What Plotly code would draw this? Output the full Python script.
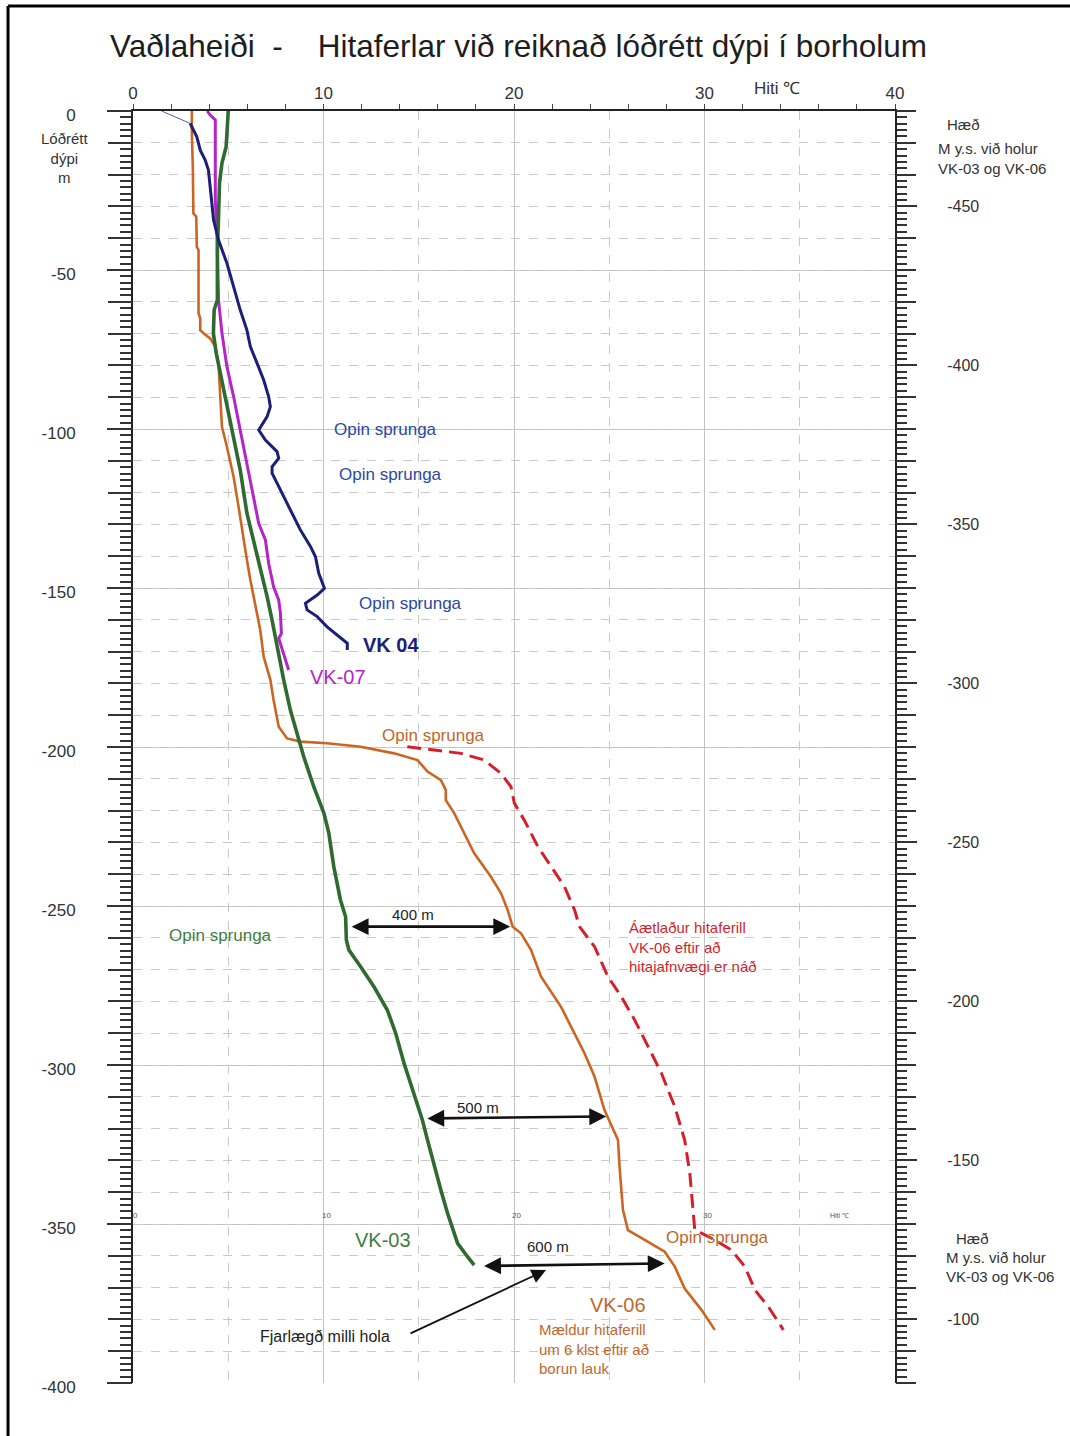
import plotly.graph_objects as go

# ---------------------------------------------------------------------------
# Temperature logs (°C) against calculated vertical depth (m, negative down)
# ---------------------------------------------------------------------------
vk04_top_temp = [1.5, 3.0]
vk04_top_depth = [0, -3.9]

vk04_temp = [3.0, 3.09, 3.35, 3.53, 3.79, 3.96, 4.05, 4.14, 4.23, 4.49, 4.93, 5.28,
             5.63, 5.98, 6.16, 6.51, 6.86, 7.12, 7.21, 7.04, 6.68, 6.6, 6.95, 7.56,
             7.65, 7.3, 7.3, 7.74, 8.26, 8.79, 9.32, 9.58, 9.75, 10.05, 9.67, 9.05,
             9.14, 9.67, 10.19, 10.8, 11.25, 11.25]
vk04_depth = [-3.9, -4.9, -8.1, -12.3, -15.4, -18.6, -23.8, -30.1, -34.3, -40.6, -47.9,
              -55.2, -62.6, -68.9, -74.1, -79.3, -84.6, -89.8, -93.0, -96.1, -99.3,
              -100.3, -103.5, -107.1, -109.2, -111.9, -113.9, -119.2, -125.5, -131.8,
              -137.0, -140.2, -145.4, -150.1, -152.2, -154.8, -156.9, -159.0, -162.2,
              -165.3, -167.4, -169.5]

vk07_temp = [3.9, 4.05, 4.32, 4.32, 4.32, 4.4, 4.43, 4.49, 4.67, 4.93, 5.28, 5.63, 5.98,
             6.33, 6.6, 6.95, 7.12, 7.38, 7.65, 7.74, 7.79, 7.65, 7.91, 8.17]
vk07_depth = [0, -1.3, -2.8, -17.5, -28, -38.5, -49, -59.4, -69.9, -80.4, -89.8, -100.3,
              -110.8, -121.3, -129.7, -134.9, -142.2, -149.6, -153.8, -158, -164.3,
              -165.8, -170.5, -175.8]

vk03_temp = [5.0, 4.96, 4.89, 4.67, 4.54, 4.49, 4.43, 4.43, 4.43, 4.26, 4.22, 4.37, 4.58,
             4.93, 5.28, 5.63, 5.98, 6.33, 6.68, 7.04, 7.3, 7.56, 7.91, 8.26, 8.61, 8.96,
             9.49, 10.02, 10.28, 10.54, 10.89, 11.16, 11.2, 11.33, 11.95, 12.65, 13.35,
             13.79, 14.23, 14.67, 15.19, 15.46, 15.81, 16.16, 16.51, 17.04, 17.56, 17.91]
vk03_depth = [0, -4.9, -11.2, -16.4, -22.7, -33.2, -43.7, -54.2, -59.4, -62.6, -69.9,
              -76.2, -82.5, -91.9, -102.4, -112.9, -126.5, -134.9, -143.3, -152.7, -160.1,
              -168.4, -178.9, -188.4, -195.7, -203.0, -212.5, -220.8, -227.1, -237.6,
              -248.1, -253.4, -260.7, -263.8, -269.1, -275.4, -282.7, -290.0, -299.5,
              -307.9, -317.3, -323.6, -332.0, -339.3, -346.6, -356.1, -360.3, -362.9]

vk06_temp = [3.09, 3.09, 3.14, 3.17, 3.32, 3.35, 3.44, 3.44, 3.53, 3.53, 3.7, 4.05, 4.32,
             4.49, 4.58, 4.67, 4.93, 5.28, 5.54, 5.8, 5.98, 6.16, 6.42, 6.68, 6.86, 7.21,
             7.38, 7.65, 8.09, 8.79, 10.19, 11.95, 13.7, 14.93, 15.46, 16.16, 16.42,
             16.42, 16.86, 17.38, 17.91, 18.79, 19.32, 19.67, 19.93, 20.37, 20.89, 21.42,
             21.77, 22.47, 23.0, 23.7, 24.23, 24.75, 25.46, 25.54, 25.72, 25.98, 26.86,
             27.91, 28.44, 28.96, 29.84, 30.54]
vk06_depth = [0, -7, -17.5, -32.2, -33.2, -42.7, -43.7, -63.6, -65.2, -68.9, -69.9, -71.5,
              -74.1, -79.3, -89.8, -99.3, -105.6, -115.0, -124.4, -134.9, -141.2, -147.5,
              -155.9, -163.2, -171.6, -178.9, -185.2, -193.6, -197.3, -198.3, -198.8,
              -199.9, -202.0, -204.1, -207.7, -210.4, -213.5, -216.7, -220.8, -227.1,
              -233.4, -240.8, -246.0, -251.3, -256.5, -258.6, -263.8, -272.2, -275.4,
              -281.7, -288.0, -296.3, -303.7, -314.2, -323.6, -332.0, -345.6, -351.9,
              -355.0, -358.7, -363.4, -370.3, -377.0, -383.3]

# estimated VK-06 profile at thermal equilibrium
vk06_eq_temp = [14.4, 15.81, 17.21, 18.44, 19.32, 19.84, 20.02, 20.54, 21.25, 21.95, 22.65,
                23.18, 23.44, 24.23, 24.93, 25.63, 26.33, 27.04, 27.74, 28.44, 28.96,
                29.23, 29.4, 29.49, 29.84, 30.54, 31.42, 32.12, 32.65, 33.35, 34.14]
vk06_eq_depth = [-199.9, -200.9, -202.0, -204.1, -208.3, -212.5, -217.7, -223.0, -231.3,
                 -237.6, -243.9, -251.3, -256.5, -262.8, -272.2, -278.5, -285.8, -294.2,
                 -302.6, -313.1, -323.6, -334.1, -344.6, -351.9, -352.9, -355.0, -358.2,
                 -363.4, -370.8, -376.0, -383.3]

# axis ticks
temp_ticks = [0, 10, 20, 30, 40]
temp_half_ticks = [5, 15, 25, 35]
depth_ticks = list(range(-400, 1, 50))
elev_ticks = list(range(-450, -99, 50))
inner_temp_ticks = [0, 10, 20, 30]

# horizontal distances between holes (m)
dist_labels = ["400 m", "500 m", "600 m"]

FONT = "Liberation Sans, Arial, sans-serif"
NAVY = "#1b1f78"
MAGENTA = "#b425c8"
GREEN = "#2f6a31"
ORANGE = "#cc6522"
RED = "#d41f2d"
BLUE_TXT = "#2b48a6"
GREEN_TXT = "#3f7e3f"
ORANGE_TXT = "#c0672c"
GRID = "#c2c2c2"
GRID_DASH = "#c9c9c9"

fig = go.Figure()

fig.add_trace(go.Scatter(x=vk06_eq_temp, y=vk06_eq_depth, mode="lines",
                         line=dict(color=RED, width=3, dash="14px,7px")))
fig.add_trace(go.Scatter(x=vk06_temp, y=vk06_depth, mode="lines",
                         line=dict(color=ORANGE, width=2.6)))
fig.add_trace(go.Scatter(x=vk07_temp, y=vk07_depth, mode="lines",
                         line=dict(color=MAGENTA, width=3)))
fig.add_trace(go.Scatter(x=vk03_temp, y=vk03_depth, mode="lines",
                         line=dict(color=GREEN, width=3.6)))
fig.add_trace(go.Scatter(x=vk04_top_temp, y=vk04_top_depth, mode="lines",
                         line=dict(color="#5a5e9a", width=1)))
fig.add_trace(go.Scatter(x=vk04_temp, y=vk04_depth, mode="lines",
                         line=dict(color=NAVY, width=3)))

# empty traces that carry the overlay axes (dashed grid, rulers, elevation scale)
for xa, ya in [("x2", "y3"), ("x", "y2"), ("x", "y4")]:
    fig.add_trace(go.Scatter(x=[None], y=[None], xaxis=xa, yaxis=ya,
                             mode="lines", hoverinfo="skip"))

tickfont = dict(family=FONT, size=17, color="#333333")

fig.update_layout(
    width=1070, height=1436,
    margin=dict(l=133, r=175, t=111, b=53),
    paper_bgcolor="white", plot_bgcolor="white",
    showlegend=False,
    font=dict(family=FONT, color="#333333"),
    title=dict(text="Vaðlaheiði\u00a0\u00a0-\u00a0\u00a0\u00a0\u00a0Hitaferlar við reiknað lóðrétt dýpi í borholum",
               font=dict(family=FONT, size=31.5, color="#1e1e1e"),
               x=110 / 1070, xanchor="left", xref="container",
               y=1 - 46 / 1436, yanchor="middle", yref="container"),
    xaxis=dict(range=[0, 40], side="top", anchor="y",
               tickvals=temp_ticks, ticktext=[str(v) for v in temp_ticks],
               ticks="outside", ticklen=5, tickcolor="#444", tickwidth=1.2,
               showline=True, linecolor="#222", linewidth=2,
               showgrid=True, gridcolor=GRID, gridwidth=1, zeroline=False,
               minor=dict(dtick=2, tick0=0, ticks="outside", ticklen=5,
                          tickcolor="#444", tickwidth=1.2, showgrid=False),
               tickfont=tickfont, ticklabelstandoff=-2),
    xaxis2=dict(range=[0, 40], overlaying="x", side="top", anchor="y",
                tickvals=temp_half_ticks, showticklabels=False, ticks="",
                showgrid=True, gridcolor=GRID_DASH, griddash="dash", gridwidth=1,
                showline=False, zeroline=False),
    yaxis=dict(range=[-400, 0], anchor="x", side="left",
               tickvals=depth_ticks, ticktext=[str(v) for v in depth_ticks],
               ticks="outside", ticklen=24, tickcolor="#333", tickwidth=1.6,
               showline=True, linecolor="#222", linewidth=2,
               showgrid=True, gridcolor=GRID, gridwidth=1, zeroline=False,
               minor=dict(dtick=2, tick0=0, ticks="outside", ticklen=11,
                          tickcolor="#333", tickwidth=1.6, showgrid=False),
               tickfont=tickfont, ticklabelstandoff=28, ticklabelshift=4),
    yaxis3=dict(range=[-400, 0], overlaying="y", anchor="x", side="left",
                dtick=10, tick0=0, ticks="outside", ticklen=24, tickcolor="#333",
                tickwidth=1.6, showticklabels=False,
                showgrid=True, gridcolor=GRID_DASH, griddash="dash", gridwidth=1,
                showline=False, zeroline=False),
    yaxis2=dict(range=[-80, -480], overlaying="y", anchor="x", side="right",
                tickvals=elev_ticks, ticktext=[str(v) for v in elev_ticks],
                ticks="outside", ticklen=20, tickcolor="#333", tickwidth=1.6,
                showline=True, linecolor="#222", linewidth=2,
                showgrid=False, zeroline=False,
                minor=dict(dtick=2, tick0=-450, ticks="outside", ticklen=10,
                           tickcolor="#333", tickwidth=1.6, showgrid=False),
                tickfont=dict(family=FONT, size=16, color="#333333"),
                ticklabelstandoff=27),
    yaxis4=dict(range=[-80, -480], overlaying="y", anchor="x", side="right",
                dtick=10, tick0=-450, ticks="outside", ticklen=20, tickcolor="#333",
                tickwidth=1.6, showticklabels=False, showgrid=False,
                showline=False, zeroline=False),
)

ann = []


def text(x, y, s, color, size, xanchor="center", yanchor="middle", bold=False,
         xref="x", yref="y", align="center"):
    if bold:
        s = "<b>" + s + "</b>"
    ann.append(dict(x=x, y=y, xref=xref, yref=yref, text=s, showarrow=False,
                    xanchor=xanchor, yanchor=yanchor, align=align,
                    font=dict(family=FONT, size=size, color=color)))


# fracture markers along the logs
text(13.26, -100.3, "Opin sprunga", BLUE_TXT, 17)
text(13.53, -114.2, "Opin sprunga", BLUE_TXT, 17)
text(14.58, -155.0, "Opin sprunga", BLUE_TXT, 17)
text(15.79, -196.5, "Opin sprunga", ORANGE_TXT, 17)
text(4.58, -259.4, "Opin sprunga", GREEN_TXT, 17)
text(30.68, -354.4, "Opin sprunga", ORANGE_TXT, 17)

# well names
text(13.53, -167.9, "VK 04", NAVY, 20, bold=True)
text(10.74, -178.0, "VK-07", MAGENTA, 20)
text(13.1, -355.0, "VK-03", GREEN_TXT, 20)
text(25.47, -375.5, "VK-06", ORANGE_TXT, 20)

text(25.95, -262.9, "Áætlaður hitaferill<br>VK-06 eftir að<br>hitajafnvægi er náð",
     RED, 15, xanchor="left", align="left")
text(21.2, -389.3, "Mældur hitaferill<br>um 6 klst eftir að<br>borun lauk",
     ORANGE_TXT, 15, xanchor="left", align="left")

# distance arrows between VK-03 and VK-06
dist_arrows = [((11.4, -256.5), (19.8, -256.5), (14.68, -252.8)),
               ((15.37, -316.8), (24.84, -316.2), (18.1, -313.5)),
               ((18.35, -363.2), (27.91, -362.4), (21.8, -357.0))]
for lbl, (a, b, t) in zip(dist_labels, dist_arrows):
    ann.append(dict(x=b[0], y=b[1], ax=a[0], ay=a[1], xref="x", yref="y",
                    axref="x", ayref="y", text="", showarrow=True,
                    arrowside="end+start", arrowhead=2, arrowsize=1.3,
                    arrowwidth=2.6, arrowcolor="#111", standoff=0, startstandoff=0))
    text(t[0], t[1], lbl, "#222", 15)

ann.append(dict(x=21.68, y=-364.5, ax=14.49, ay=-384.6, xref="x", yref="y",
                axref="x", ayref="y", text="", showarrow=True,
                arrowhead=2, arrowsize=1.6, arrowwidth=1.8, arrowcolor="#111",
                standoff=0))
text(10.1, -385.5, "Fjarlægð milli hola", "#222", 16)

# small temperature scale printed along the -350 m line
for v in inner_temp_ticks:
    text(v + 0.15, -347.2, str(v), "#555", 8)
text(36.5, -347.2, "Hiti ℃", "#555", 7, xanchor="left")

# axis captions
text(33.8, 1.018, "Hiti ℃", "#333333", 17, yref="paper")
text(-0.089, 0.963, "Lóðrétt<br>dýpi<br>m", "#333333", 15, xref="paper", yref="paper")
text(1.066, 0.989, "Hæð", "#333333", 15, xanchor="left", xref="paper", yref="paper")
text(1.054, 0.9625, "M y.s. við holur<br>VK-03 og VK-06", "#333333", 15,
     xanchor="left", xref="paper", yref="paper", align="left")
text(1.078, 0.1137, "Hæð", "#333333", 15, xanchor="left", xref="paper", yref="paper")
text(1.064, 0.0983, "M y.s. við holur", "#333333", 15,
     xanchor="left", xref="paper", yref="paper", align="left")
text(1.064, 0.0841, "VK-03 og VK-06", "#333333", 15,
     xanchor="left", xref="paper", yref="paper", align="left")

fig.update_layout(annotations=ann)

# page frame (top and left edges)
fig.add_shape(type="line", xref="paper", yref="paper",
              x0=-0.164, x1=1.23, y0=1.0825, y1=1.0825, line=dict(color="black", width=3))
fig.add_shape(type="line", xref="paper", yref="paper",
              x0=-0.164, x1=-0.164, y0=1.0825, y1=-0.05, line=dict(color="black", width=3))

fig.write_html("out.html")
